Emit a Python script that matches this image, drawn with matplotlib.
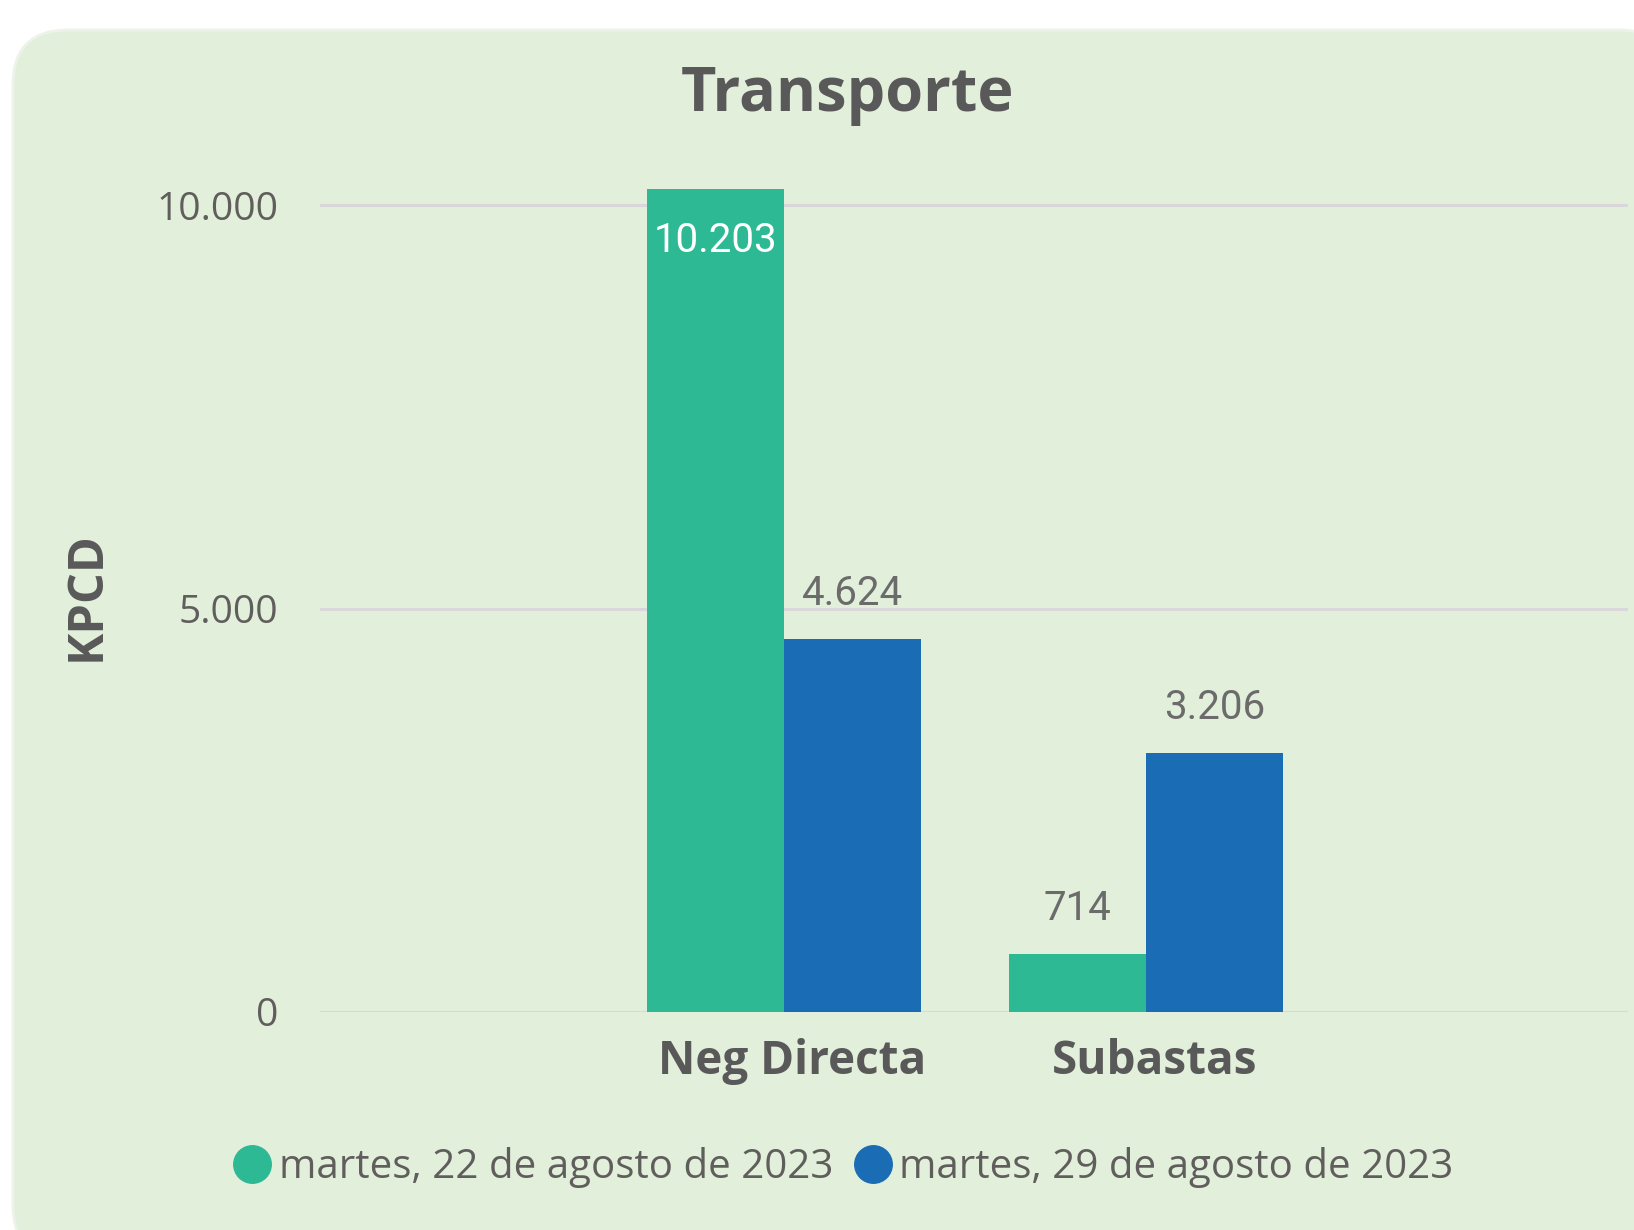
"""Transporte: KPCD por tipo de contratación, dos fechas."""

import matplotlib

matplotlib.use("Agg")
import matplotlib.pyplot as plt
import matplotlib.transforms as mtransforms
from matplotlib.lines import Line2D
from matplotlib.patches import FancyBboxPatch
import numpy as np

# ---- data -------------------------------------------------------------
categories = ["Neg Directa", "Subastas"]
series_names = ["martes, 22 de agosto de 2023", "martes, 29 de agosto de 2023"]
values_0822 = [10203, 714]
values_0829 = [4624, 3206]
y_ticks = [0, 5000, 10000]
y_tick_labels = ["0", "5.000", "10.000"]

GREEN = "#2DB994"
BLUE = "#1A6CB4"
PANEL = "#E2EFDA"
GRID = "#D9D7DC"
DARK = "#595959"
TICK = "#605E5C"
LABEL = "#6B6B6B"

W, H = 1634, 1230
DPI = 100


def fmt(v: float) -> str:
    return f"{v:,.0f}".replace(",", ".")


fig = plt.figure(figsize=(W / DPI, H / DPI), dpi=DPI)
fig.patch.set_facecolor("white")

# rounded background panel, drawn in pixel coordinates
bg = fig.add_axes([0, 0, 1, 1], zorder=-10)
bg.set_xlim(0, W)
bg.set_ylim(H, 0)
bg.axis("off")
bg.add_patch(
    FancyBboxPatch(
        (13, 30), W - 13 + 40, H,
        boxstyle="round,pad=0,rounding_size=55",
        facecolor=PANEL, edgecolor="#EDF2EA", linewidth=2,
    )
)

# main plot area
ax = fig.add_axes([320 / W, 1 - 1012 / H, (1628 - 320) / W, (1012 - 180) / H])
ax.set_facecolor("none")

x = np.arange(len(categories))
bw = 0.378
bars_a = ax.bar(x - bw / 2, values_0822, bw, color=GREEN, zorder=3)
bars_b = ax.bar(x + bw / 2, values_0829, bw, color=BLUE, zorder=3)

ax.set_xlim(-1.282, 2.331)
ax.set_ylim(0, 10310)

ax.set_yticks(y_ticks)
ax.set_yticklabels(y_tick_labels, fontfamily="Open Sans", fontsize=28, color=TICK)
ax.set_xticks(x)
ax.set_xticklabels(categories, fontfamily="Open Sans", fontweight="bold",
                   fontsize=33, color=DARK)
ax.tick_params(axis="y", length=0, pad=30)
ax.tick_params(axis="x", length=0, pad=19)

# category labels sit a little right of the group centre in the original
shift = mtransforms.ScaledTranslation(8 / DPI, 0, fig.dpi_scale_trans)
for lbl in ax.get_xticklabels():
    lbl.set_transform(lbl.get_transform() + shift)

for yv in y_ticks:
    ax.axhline(yv, color=GRID, lw=2.2, zorder=1)
for s in ax.spines.values():
    s.set_visible(False)

# data labels: outside above the bar, inside when it would hit the top
for bars in (bars_a, bars_b):
    for b in bars:
        v = b.get_height()
        cx = b.get_x() + b.get_width() / 2
        if v > 9000:
            ax.annotate(fmt(v), (cx, v), xytext=(0, -37), textcoords="offset points",
                        ha="center", va="center", fontfamily="Roboto",
                        fontsize=29, color="white", zorder=4)
        else:
            ax.annotate(fmt(v), (cx, v), xytext=(0, 33), textcoords="offset points",
                        ha="center", va="center", fontfamily="Roboto",
                        fontsize=29, color=LABEL, zorder=4)

ax.set_ylabel("KPCD", fontfamily="Open Sans", fontweight="bold", fontsize=35,
              color=DARK)
ax.yaxis.set_label_coords((112 - 320) / (1628 - 320), (1012 - 596) / (1012 - 180))

fig.text(847 / W, 1 - 96 / H, "Transporte", ha="center", va="center",
         fontfamily="Open Sans", fontweight="bold", fontsize=44, color=DARK)

handles = [
    Line2D([], [], marker="o", linestyle="none", markersize=27,
           markerfacecolor=c, markeredgecolor=c)
    for c in (GREEN, BLUE)
]
fig.legend(handles, series_names, loc="center",
           bbox_to_anchor=(843 / W, 1 - 1168 / H), ncol=2, frameon=False,
           prop={"family": "Open Sans", "size": 29}, labelcolor=TICK,
           handletextpad=0.15, columnspacing=0.5, handlelength=1.0)

fig.savefig("out.png", dpi=DPI, facecolor=fig.get_facecolor())
